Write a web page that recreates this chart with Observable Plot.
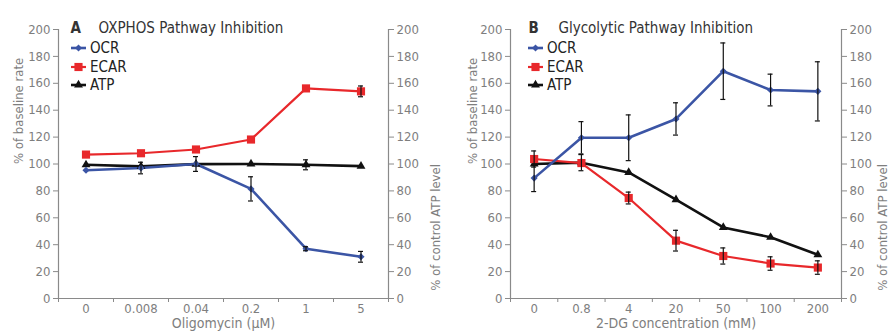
<!DOCTYPE html>
<html><head><meta charset="utf-8">
<script src="https://cdn.jsdelivr.net/npm/d3@7"></script>
<script src="https://cdn.jsdelivr.net/npm/@observablehq/plot@0.6"></script>
<style>
body{margin:0;background:#fff;}
#wrap{display:flex;width:891px;height:333px;overflow:hidden;}
#wrap svg{font-family:"DejaVu Sans Condensed","Liberation Sans Narrow","DejaVu Sans",sans-serif;font-stretch:condensed;}
</style></head><body><div id="wrap"></div>
<script>
// ---- Panel A: OXPHOS pathway inhibition (oligomycin, µM)
const oligoCats = ["0","0.008","0.04","0.2","1","5"];
const oligoOCR = [95.4, 97, 100, 81.5, 37, 31];
const oligoOCRerr = [0, 4.3, 5.5, 9, 1.5, 4];
const oligoECAR = [107, 108, 110.8, 118.2, 156.2, 154];
const oligoECARerr = [0, 0, 0, 0, 0, 4];
const oligoATP = [99.4, 98.2, 99.9, 100, 99.4, 98.4];
const oligoATPerr = [0, 0, 0, 0, 3.7, 0];

// ---- Panel B: glycolytic pathway inhibition (2-DG, mM)
const dgCats = ["0","0.8","4","20","50","100","200"];
const dgOCR = [89.5, 119.5, 119.5, 133.5, 169, 155, 154];
const dgOCRerr = [10, 12, 17, 12, 21, 11.8, 22];
const dgECAR = [103.7, 100.7, 74.7, 43, 31.6, 26, 23];
const dgECARerr = [6, 0, 4.4, 7.7, 6, 5, 5];
const dgATP = [100, 101, 93.7, 73.5, 52.8, 45.5, 32.5];
const dgATPerr = [0, 6, 0, 0, 0, 0, 0];

const yTicks = [0, 20, 40, 60, 80, 100, 120, 140, 160, 180, 200];
const seriesNames = ["OCR", "ECAR", "ATP"];
const seriesColors = {OCR: "#3b55a5", ECAR: "#e8282b", ATP: "#111111"};
const seriesSymbols = {OCR: "diamond2", ECAR: "square", ATP: "triangle"};
const seriesR = {OCR: 3.2, ECAR: 4.6, ATP: 3.3};
const seriesW = {OCR: 2.6, ECAR: 2.2, ATP: 2.6};

const GRAY = "#8a8a8a", TXT = "#7e7e7e";

function panel(cfg) {
  const {cats, data, width, ml, mr, letter, title, xlabel, ylDx, yrDx, letterDx, titleDx, legDx} = cfg;
  const n = cats.length;
  const rows = [];
  const drawOrder = ["ATP", "ECAR", "OCR"];
  for (const s of drawOrder) data[s].v.forEach((v, i) => rows.push({i, s, v, e: data[s].e[i]}));
  const errRows = rows.filter(d => d.e > 0);
  const marks = [
    Plot.ruleX([-0.5, n - 0.5], {y1: 0, y2: 200, stroke: GRAY, strokeWidth: 1.2}),
    Plot.ruleY([0], {stroke: GRAY, strokeWidth: 1.2}),
    Plot.axisY({ticks: yTicks, tickSize: 5, tickPadding: 3, label: null, color: TXT, stroke: GRAY, fontSize: 13}),
    Plot.axisY({anchor: "right", ticks: yTicks, tickSize: 5, tickPadding: 3, label: null, color: TXT, stroke: GRAY, fontSize: 13}),
    Plot.axisX({ticks: d3.range(n), tickSize: 0, tickPadding: 5, tickFormat: i => cats[i], label: null, color: TXT, fontSize: 13}),
    Plot.axisX({ticks: d3.range(n + 1).map(k => k - 0.5), tickSize: 4, tickFormat: () => "", label: null, stroke: GRAY}),
    Plot.text(["% of baseline rate"], {frameAnchor: "left", dx: ylDx, rotate: -90, fill: TXT, fontSize: 13}),
    Plot.text(["% of control ATP level"], {frameAnchor: "right", dx: yrDx, rotate: -90, fill: TXT, fontSize: 13}),
    Plot.text([xlabel], {frameAnchor: "bottom", dy: 29.5, fill: TXT, fontSize: 14}),
    Plot.text([letter], {frameAnchor: "top-left", dx: letterDx, dy: -7, textAnchor: "start", fontWeight: "bold", fontSize: 15, fill: "#333"}),
    Plot.text([title], {frameAnchor: "top-left", dx: titleDx, dy: -7, textAnchor: "start", fontSize: 15, fill: "#333"})
  ];
  for (const s of drawOrder) {
    const sr = rows.filter(d => d.s === s);
    marks.push(Plot.line(sr, {x: "i", y: "v", stroke: seriesColors[s], strokeWidth: seriesW[s]}));
  }
  for (const s of drawOrder) {
    const sr = rows.filter(d => d.s === s);
    marks.push(Plot.dot(sr, {x: "i", y: "v", symbol: () => seriesSymbols[s], fill: seriesColors[s], r: seriesR[s], stroke: "none"}));
  }
  marks.push(Plot.ruleX(errRows, {x: "i", y1: d => d.v - d.e, y2: d => d.v + d.e, stroke: "#111", strokeWidth: 1.2}));
  marks.push(Plot.ruleY(errRows, {y: d => d.v + d.e, x1: "i", x2: "i", insetLeft: -2.5, insetRight: -2.5, stroke: "#111", strokeWidth: 1.2}));
  marks.push(Plot.ruleY(errRows, {y: d => d.v - d.e, x1: "i", x2: "i", insetLeft: -2.5, insetRight: -2.5, stroke: "#111", strokeWidth: 1.2}));

  const svg = Plot.plot({
    width, height: 333,
    marginLeft: ml, marginRight: mr, marginTop: 29, marginBottom: 35,
    x: {type: "linear", domain: [-0.5, n - 0.5]},
    y: {domain: [0, 200]},
    style: {fontSize: "13px", background: "#fff", overflow: "visible"},
    marks
  });
  // legend
  const g = d3.select(svg).append("g").attr("text-anchor", "start");
  seriesNames.forEach((s, k) => {
    const y = 29 + [19, 38, 56][k];
    const x0 = ml + legDx;
    g.append("line").attr("x1", x0).attr("x2", x0 + 15).attr("y1", y).attr("y2", y)
      .attr("stroke", seriesColors[s]).attr("stroke-width", seriesW[s]);
    const sym = {diamond2: d3.symbolDiamond2, square: d3.symbolSquare, triangle: d3.symbolTriangle}[seriesSymbols[s]];
    g.append("path").attr("d", d3.symbol(sym, Math.PI * seriesR[s] ** 2)()).attr("transform", `translate(${x0 + 7.5},${y})`)
      .attr("fill", seriesColors[s]);
    g.append("text").attr("x", x0 + 19).attr("y", y).attr("dy", "0.36em").attr("font-size", 15)
      .attr("text-anchor", "start").attr("fill", "#222").text(s);
  });
  return svg;
}

const wrap = document.getElementById("wrap");
wrap.append(panel({
  cats: oligoCats,
  data: {OCR: {v: oligoOCR, e: oligoOCRerr}, ECAR: {v: oligoECAR, e: oligoECARerr}, ATP: {v: oligoATP, e: oligoATPerr}},
  width: 445, ml: 58, mr: 57, letter: "A", title: "OXPHOS Pathway Inhibition", xlabel: "Oligomycin (μM)",
  ylDx: -40, yrDx: 47, letterDx: 12, titleDx: 40, legDx: 13
}));
wrap.append(panel({
  cats: dgCats,
  data: {OCR: {v: dgOCR, e: dgOCRerr}, ECAR: {v: dgECAR, e: dgECARerr}, ATP: {v: dgATP, e: dgATPerr}},
  width: 446, ml: 65, mr: 50, letter: "B", title: "Glycolytic Pathway Inhibition", xlabel: "2-DG concentration (mM)",
  ylDx: -38, yrDx: 41, letterDx: 18, titleDx: 48, legDx: 18
}));
</script></body></html>
